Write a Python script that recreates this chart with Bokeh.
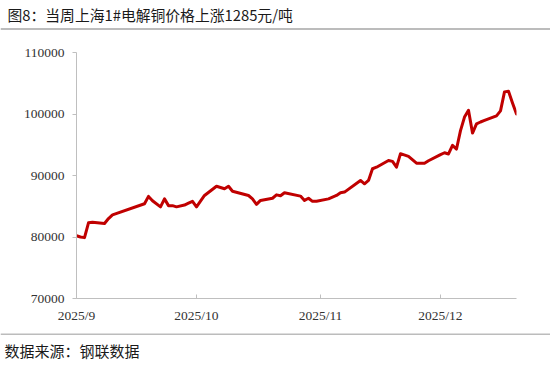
import pandas as pd
from bokeh.plotting import figure
from bokeh.layouts import column
from bokeh.models import (ColumnDataSource, FixedTicker, DatetimeTickFormatter,
                          BasicTickFormatter, Range1d)
from bokeh.core.properties import value
from bokeh.embed import file_html
from bokeh.resources import INLINE

# ---- data ----
dates = [
    "2025-09-01", "2025-09-02", "2025-09-03", "2025-09-04", "2025-09-05",
    "2025-09-08", "2025-09-09", "2025-09-10", "2025-09-18", "2025-09-19",
    "2025-09-20", "2025-09-22", "2025-09-23", "2025-09-24", "2025-09-25",
    "2025-09-26", "2025-09-28", "2025-09-29", "2025-09-30",
    "2025-10-01", "2025-10-03", "2025-10-06", "2025-10-08", "2025-10-09",
    "2025-10-10", "2025-10-14", "2025-10-15", "2025-10-16", "2025-10-17",
    "2025-10-20", "2025-10-21", "2025-10-22", "2025-10-23", "2025-10-27",
    "2025-10-28", "2025-10-29", "2025-10-30", "2025-10-31",
    "2025-11-03", "2025-11-05", "2025-11-06", "2025-11-07", "2025-11-11",
    "2025-11-12", "2025-11-13", "2025-11-14", "2025-11-15", "2025-11-18",
    "2025-11-19", "2025-11-20", "2025-11-21", "2025-11-23", "2025-11-25",
    "2025-11-27", "2025-11-28",
    "2025-12-01", "2025-12-02", "2025-12-03", "2025-12-04", "2025-12-05",
    "2025-12-06", "2025-12-07", "2025-12-08", "2025-12-09", "2025-12-10",
    "2025-12-11", "2025-12-12", "2025-12-15", "2025-12-16", "2025-12-17",
    "2025-12-18", "2025-12-19", "2025-12-20",
]
prices = [
    80200, 80000, 79900, 82300, 82400,
    82200, 83000, 83600, 85400, 86600,
    85900, 84900, 86200, 85100, 85100,
    84900, 85200, 85500, 85800,
    84900, 86750, 88250, 87850, 88250,
    87450, 86750, 86200, 85300, 85950,
    86300, 86850, 86700, 87200, 86650,
    85950, 86300, 85800, 85800,
    86200, 86750, 87200, 87300, 89200,
    88650, 89200, 91100, 91350, 92450,
    92300, 91350, 93550, 93100, 92000,
    92000, 92400,
    93400, 93700, 93500, 94900, 94300,
    97300, 99500, 100600, 96900, 98400,
    98700, 98950, 99700, 100500, 103600,
    103700, 101800, 100000,
]
tick_dates = ["2025-09-01", "2025-10-01", "2025-11-01", "2025-12-01"]
y_ticks = [70000, 80000, 90000, 100000, 110000]
title_text = "图8：当周上海1#电解铜价格上涨1285元/吨"
source_text = "数据来源：钢联数据"

W = 550
SEP_COLOR = "#A6A6A6"
TEXT_COLOR = "#1a1a1a"


def strip(height):
    f = figure(width=W, height=height, output_backend="svg", toolbar_location=None,
               x_axis_location=None, y_axis_location=None,
               min_border=0, min_border_left=0, min_border_right=0,
               min_border_top=0, min_border_bottom=0)
    f.frame_align = False
    f.x_range = Range1d(0, W)
    f.y_range = Range1d(height, 0)
    f.outline_line_color = None
    f.xgrid.grid_line_color = None
    f.ygrid.grid_line_color = None
    f.border_fill_color = "white"
    f.background_fill_color = "white"
    return f


# ---- header strip ----
top = strip(30)
top.text(x=[7], y=[14], text=[title_text], text_font=value("Noto Sans CJK SC"),
         text_font_size="14.8px", text_color=TEXT_COLOR,
         text_align="left", text_baseline="middle")
top.segment(x0=[0], y0=[28.5], x1=[W], y1=[28.5], line_color=SEP_COLOR, line_width=1.5)

# ---- main chart ----
x = pd.to_datetime(dates)
src = ColumnDataSource(dict(x=x, y=prices))

p = figure(width=W, height=303, x_axis_type="datetime",
           output_backend="svg", toolbar_location=None,
           min_border_left=76, min_border_right=34,
           min_border_top=22, min_border_bottom=35)
p.frame_align = False
p.x_range = Range1d(pd.Timestamp("2025-09-01"), pd.Timestamp("2025-12-20"))
p.y_range = Range1d(70000, 110000)

p.line("x", "y", source=src, line_color="#C00000", line_width=3,
       line_join="round", line_cap="round")

p.outline_line_color = None
p.xgrid.grid_line_color = None
p.ygrid.grid_line_color = None
p.background_fill_color = "white"
p.border_fill_color = "white"

axis_color = "#BFBFBF"
label_color = "#333333"

xa = p.xaxis[0]
xa.ticker = FixedTicker(ticks=[pd.Timestamp(d).value / 1e6 for d in tick_dates])
fmt = "%Y/%-m"
xa.formatter = DatetimeTickFormatter(
    microseconds=fmt, milliseconds=fmt, seconds=fmt, minsec=fmt, minutes=fmt,
    hourmin=fmt, hours=fmt, days=fmt, months=fmt, years=fmt)
xa.axis_line_color = axis_color
xa.major_tick_line_color = axis_color
xa.major_tick_in = 4
xa.major_tick_out = 0
xa.minor_tick_line_color = None
xa.major_label_text_font = "Liberation Serif"
xa.major_label_text_font_size = "13.5px"
xa.major_label_text_color = label_color
xa.major_label_standoff = 9

ya = p.yaxis[0]
ya.ticker = FixedTicker(ticks=y_ticks)
ya.formatter = BasicTickFormatter(use_scientific=False)
ya.axis_line_color = axis_color
ya.major_tick_line_color = axis_color
ya.major_tick_in = 0
ya.major_tick_out = 4
ya.minor_tick_line_color = None
ya.major_label_text_font = "Liberation Serif"
ya.major_label_text_font_size = "13.5px"
ya.major_label_text_color = label_color
ya.major_label_standoff = 8

# ---- footer strip ----
bot = strip(34)
bot.segment(x0=[0], y0=[0.5], x1=[W], y1=[0.5], line_color=SEP_COLOR, line_width=1.5)
bot.text(x=[4], y=[17], text=[source_text], text_font=value("Noto Sans CJK SC"),
         text_font_size="15px", text_color=TEXT_COLOR,
         text_align="left", text_baseline="middle")

layout = column(top, p, bot, spacing=0)
open("out.html", "w").write(file_html(layout, INLINE))
